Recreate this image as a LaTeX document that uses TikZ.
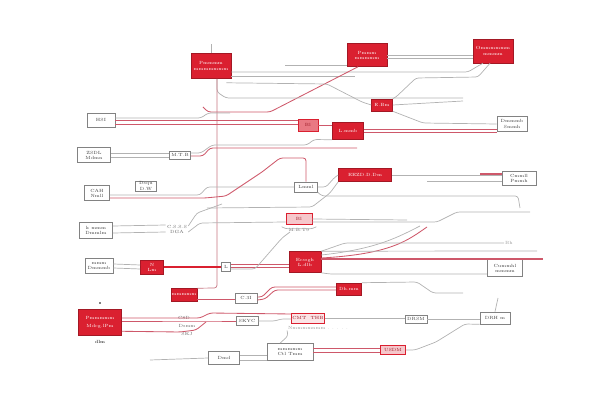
\documentclass[tikz,border=0pt]{standalone}
\usepackage{tikz}
\usetikzlibrary{calc, positioning}
\usepackage{xcolor}

\definecolor{boxred}{RGB}{218,32,48}
\definecolor{linered}{RGB}{206,88,106}
\definecolor{linegray}{RGB}{178,178,178}
\definecolor{boxgray}{RGB}{130,130,130}
\newcommand{\tinyfont}{\fontsize{3.2}{3.6}\selectfont}

\begin{document}
\begin{tikzpicture}[
        x=0.025cm, y=-0.025cm,
        redbox/.style={rectangle, draw=boxred!75!black, fill=boxred, text=white, inner sep=0.5pt, align=center, font=\tinyfont, line width=0.4pt},
        pinkbox/.style={rectangle, draw=boxred, fill=boxred!25, text=boxred!70!black, inner sep=0.5pt, align=center, font=\tinyfont, line width=0.4pt},
        graybox/.style={rectangle, draw=boxgray, fill=white, text=black!75, inner sep=0.5pt, align=center, font=\tinyfont, line width=0.45pt},
        note/.style={font=\tinyfont, text=black!60, inner sep=0.5pt, align=center},
        wire/.style={draw=linegray, line width=0.5pt, rounded corners=2pt},
        redwire/.style={draw=linered, line width=0.6pt, rounded corners=2pt},
        thickwire/.style={draw=boxred, line width=1.5pt}
    ]
        \useasboundingbox (0,0) rectangle (600,400);

        % red blocks
        \node[redbox, minimum width=1cm, minimum height=0.625cm] (rA) at (211,66) {Pmmmm\\[1pt]mmmmmmm};
        \node[redbox, minimum width=1cm, minimum height=0.575cm] (rB) at (367,55) {Pmmm\\mmmmm};
        \node[redbox, minimum width=1cm, minimum height=0.6cm] (rC) at (493,51) {Ommmmmm\\[1pt]mmmm};
        \node[redbox, minimum width=0.525cm, minimum height=0.3cm] (rD) at (382,105) {E.Bm};
        \node[redbox, minimum width=0.775cm, minimum height=0.425cm] (rF) at (348,131) {L.mmb};
        \node[redbox, minimum width=1.325cm, minimum height=0.325cm] (rG) at (365,175) {EEZD.D.Dm};
        \node[redbox, minimum width=0.8cm, minimum height=0.525cm] (rH) at (305,262) {Ecssgh\\L.dlb};
        \node[redbox, minimum width=0.625cm, minimum height=0.3cm] (rI) at (349,289) {Dh.mm};
        \node[redbox, minimum width=0.575cm, minimum height=0.35cm] (rJ) at (152,267) {N\\Lm};
        \node[redbox, minimum width=0.625cm, minimum height=0.325cm] (rK) at (184,295) {mmmmm};
        \node[redbox, minimum width=1.075cm, minimum height=0.65cm] (rL) at (100,322) {Pmmmmm\\[2pt]Mdcg.lPm};

        % light red blocks
        \node[pinkbox, fill=boxred!60, minimum width=0.5cm, minimum height=0.3cm] (pE) at (308,125) {Bl};
        \node[pinkbox, minimum width=0.65cm, minimum height=0.275cm] (pM) at (299,219) {Bl};
        \node[pinkbox, minimum width=0.625cm, minimum height=0.225cm] (pN) at (393,350) {USDM};
        \node[pinkbox, fill=boxred!12, minimum width=0.725cm, minimum height=0.25cm] (pO) at (308,318) {CMT\ \ THB};

        % gray blocks
        \node[graybox, minimum width=0.7cm, minimum height=0.35cm] (gL1) at (101,120) {HSI};
        \node[graybox, minimum width=0.825cm, minimum height=0.375cm] (gL2) at (94,155) {ZSDL\\Mdmn};
        \node[graybox, minimum width=0.625cm, minimum height=0.375cm] (gL3) at (97,193) {CAH\\Nmll};
        \node[graybox, minimum width=0.825cm, minimum height=0.4cm] (gL4) at (96,230) {k mmm\\Dmmlm};
        \node[graybox, minimum width=0.7cm, minimum height=0.375cm] (gL5) at (99,266) {mmm\\Dmmmb};
        \node[graybox, minimum width=0.525cm, minimum height=0.2cm] (gQ) at (180,155) {M.T.B};
        \node[graybox, minimum width=0.525cm, minimum height=0.225cm] (gR) at (146,186) {Dsqu\\D.W};
        \node[note, minimum width=0.55cm] (gS) at (177,229) {C.S.S.S\\DGA};
        \node[graybox, minimum width=0.575cm, minimum height=0.25cm] (gP) at (306,187) {Lmml};
        \node[graybox, minimum width=0.225cm, minimum height=0.225cm] (gT) at (226,267) {L};
        \node[graybox, minimum width=0.55cm, minimum height=0.25cm] (gU) at (246,298) {C.3I};
        \node[graybox, minimum width=0.55cm, minimum height=0.225cm] (gV) at (247,321) {SKYC};
        \node[graybox, minimum width=0.775cm, minimum height=0.325cm] (gW) at (224,358) {Dmd};
        \node[graybox, minimum width=1.15cm, minimum height=0.425cm] (gX) at (290,352) {mmmmm\\Ctl Tmm};
        \node[graybox, minimum width=0.55cm, minimum height=0.2cm] (gY) at (416,319) {DRSM};
        \node[graybox, minimum width=0.75cm, minimum height=0.3cm] (gZ) at (495,318) {DRH m};
        \node[graybox, minimum width=0.75cm, minimum height=0.375cm] (gR1) at (512,124) {Dmmmb\\Smmh};
        \node[graybox, minimum width=0.85cm, minimum height=0.35cm] (gR2) at (519,178) {Cmmll\\Pmmh};
        \node[graybox, minimum width=0.875cm, minimum height=0.425cm] (gR3) at (505,268) {Cummhl\\mmmm};

        % small texts
        \node[note, below=2pt of pM] (pMnote) {M.B.T9};
        \node[note, text=black!40] (pOnote) at (318,328) {Nmmmmnmm . . . . .};
        \node[note, text=black] (rLnote) at (100,342) {dlm};
        \node[note] (rLa) at (184,318) {C8D};
        \node[note] (rLb) at (187,326) {Dsmm};
        \node[note] (rLc) at (187,334) {SKJ};
        \node[note, text=black!40] (hNote) at (509,243) {Bh};
        \fill (100,303) circle (0.9);

        % free ends
        \coordinate (cTop) at (211,44);
        \coordinate (cA1) at (355,76);
        \coordinate (cA2) at (463,98);
        \coordinate (cB0) at (285,65);
        \coordinate (cB1) at (203,107);
        \coordinate (cD1) at (463,101);
        \coordinate (cL1) at (230,113);
        \coordinate (cQ1) at (357,148);
        \coordinate (cS1) at (222,204);
        \coordinate (cG1) at (480,174);
        \coordinate (cG3) at (427,181);
        \coordinate (cG4) at (207,208);
        \coordinate (cP2) at (520,208);
        \coordinate (cM1) at (407,220);
        \coordinate (cM2) at (530,212);
        \coordinate (cH1) at (427,227);
        \coordinate (cH2) at (420,226);
        \coordinate (cH4) at (537,251);
        \coordinate (cH5) at (543,259);
        \coordinate (cT1) at (290,232);
        \coordinate (cI1) at (463,293);
        \coordinate (cL2) at (206,322);
        \coordinate (cZ1) at (498,298);
        \coordinate (cW1) at (150,360);

        % top connectors
        \draw[wire] (rA.north) -- (cTop);
        \draw[wire] ($(rA.east)+(0,6)$) -- (468,72) -- (478,66) -- ($(rC.south)+(-10,0)$);
        \draw[wire] ($(rA.east)+(0,10)$) -- (cA1);
        \draw[wire] (cB0) -- (rB.west |- cB0);
        \draw[wire] (rB.east) -- (rB.east -| rC.west);
        \draw[wire] ($(rB.east)+(0,3)$) -- ($(rB.east -| rC.west)+(0,3)$);
        \draw[redwire] ($(rB.south)+(-9,0)$) -- (270,112) -- (208,112) -- (cB1);
        \draw[wire] ($(rA.south)+(6,0)$) -- (217,92) -- (226,98) -- (cA2);
        \draw[wire, draw=linered!70!linegray] ($(rA.south)+(6,0)$) -- (217,288) -- (rK.north east);
        \draw[wire] ($(rA.south east)+(-5,4)$) -- (327,84) -- (362,102) -- (rD.west);
        \draw[wire] ($(rC.south)+(-3,0)$) -- (478,77) -- (416,78) -- (396,97) -- (rD.north east);
        \draw[wire] (rD.east) -- (cD1);
        \draw[wire] (rD.south east) -- (423,123) -- (gR1.west);
        \draw[redwire] ($(rF.east)+(0,-2)$) -- ($(rF.east -| gR1.west)+(0,-2)$);
        \draw[redwire] ($(rF.east)+(0,1.5)$) -- ($(rF.east -| gR1.west)+(0,1.5)$);

        % left column connectors
        \draw[redwire] (gL1.east) -- (gL1.east -| pE.west);
        \draw[redwire] ($(gL1.east)+(0,4)$) -- ($(gL1.east -| pE.west)+(0,4)$);
        \draw[wire] ($(gL1.east)+(0,-2)$) -- (201,118) -- (208,113) -- (cL1);
        \draw[redwire] (pE.east) -- (pE.east -| rF.west);
        \draw[wire] ($(gL2.east)+(0,-2)$) -- ($(gQ.west)+(0,-2)$);
        \draw[wire] ($(gL2.east)+(0,2)$) -- ($(gQ.west)+(0,2)$);
        \draw[redwire] ($(gQ.east)+(0,1)$) -- (203,156) -- (210,148) -- (cQ1);
        \draw[wire] ($(gQ.east)+(0,-2)$) -- (201,153) -- (212,145) -- (307,145) -- (314,139.5) -- (rF.south west);
        \draw[wire] ($(gL3.east)+(0,2)$) -- (200,195) -- (207,187) -- (gP.west);
        \draw[redwire] ($(gL3.east)+(0,5)$) -- (205,198) -- (226,196) -- (262,172) -- (280,158) -- (306,158) -- (gP.north);
        \draw[wire] ($(gL4.east)+(0,-4)$) -- ($(gS.west)+(0,-4)$);
        \draw[wire] ($(gL4.east)+(0,3)$) -- ($(gS.west)+(0,3)$);
        \draw[wire] ($(gS.east)+(0,-3)$) -- (197,213) -- (cS1);
        \draw[wire] ($(gS.east)+(0,3)$) -- (200,223) -- ($(pM.west)+(0,3)$);
        \draw[wire] ($(gL5.east)+(0,-2)$) -- ($(rJ.west)+(0,-2)$);
        \draw[wire] ($(gL5.east)+(0,2)$) -- ($(rJ.west)+(0,2)$);
        \draw[thickwire] (rJ.east) -- (gT.west);
        \draw[redwire] (gT.east) -- (gT.east -| rH.west);
        \draw[redwire] ($(gT.east)+(0,-3)$) -- ($(gT.east -| rH.west)+(0,-3)$);
        \draw[wire] ($(gT.east)+(0,2)$) -- (255,269) -- (282,238) -- (cT1);

        % middle connectors
        \draw[wire] (gP.east) -- (326,187) -- (335,177) -- (rG.west);
        \draw[wire] (rG.east) -- (rG.east -| gR2.west);
        \draw[redwire, line width=0.9pt] (cG1) -- ($(cG1 -| gR2.west)$);
        \draw[wire] (cG3) -- ($(gR2.west)+(0,3)$);
        \draw[wire] (rG.south west) -- (330,193) -- (312,207) -- (cG4);
        \draw[wire] (gP.south east) -- (322,196) -- (518,196) -- (cP2);
        \draw[wire] (pM.east) -- (cM1);
        \draw[wire] ($(pM.east)+(0,3)$) -- (437,222) -- (457,212) -- (cM2);
        \draw[wire] ($(pM.south west)+(-4,2)$) -- ($(pM.south west)+(0,4)$) -- ($(pM.south east)+(0,4)$) -- ($(pM.south east)+(4,2)$);
        \draw[redwire] ($(rH.east)+(0,-4)$) .. controls (392,254) and (408,240) .. (cH1);
        \draw[wire] ($(rH.east)+(0,-7)$) .. controls (378,249) and (400,236) .. (cH2);
        \draw[wire] (rH.north east) -- (cH4);
        \draw[wire] (rH.north east) -- (345,243) -- (hNote.west);
        \draw[redwire, line width=0.9pt] ($(rH.east)+(0,-3)$) -- (cH5);
        \draw[wire] (rH.south east) -- (330,274) -- ($(gR3.west)+(0,6)$);
        \draw[wire] (rI.north east) -- (417,282) -- (433,293) -- (cI1);
        \draw[redwire] ($(rK.east)+(0,4)$) -- ($(gU.west)+(0,1)$);
        \draw[redwire] ($(gU.east)+(0,-1)$) -- (262,297) -- (272,287) -- ($(rI.west)+(0,-2)$);
        \draw[redwire] ($(gU.east)+(0,2)$) -- (265,299) -- (275,290) -- ($(rI.west)+(0,1)$);

        % bottom connectors
        \draw[redwire] ($(rL.east)+(0,-4)$) -- (180,318) -- (200,318) -- (210,313) -- ($(pO.west)+(0,-4)$);
        \draw[redwire] ($(rL.east)+(0,-1)$) -- (205,321) -- (gV.west);
        \draw[redwire] ($(rL.south east)+(0,-4)$) -- (180,332) -- (196,330) -- (cL2);
        \draw[wire] (gV.east) -- (275,321) -- (281,319) -- ($(pO.west)+(0,1)$);
        \draw[wire] (pO.east) -- (pO.east -| gY.west);
        \draw[wire] (gY.east) -- (gY.east -| gZ.west);
        \draw[wire] (gZ.north) -- (cZ1);
        \draw[wire] (gZ.south west) -- (465,324) -- (436,342) -- (415,350) -- (pN.east);
        \draw[redwire] ($(pN.west)+(0,-2)$) -- ($(pN.west -| gX.east)+(0,-2)$);
        \draw[redwire] ($(pN.west)+(0,2)$) -- ($(pN.west -| gX.east)+(0,2)$);
        \draw[wire] ($(gW.east)+(0,-3)$) -- ($(gW.east -| gX.west)+(0,-3)$);
        \draw[wire] ($(gW.east)+(0,2)$) -- ($(gW.east -| gX.west)+(0,2)$);
        \draw[wire] (cW1) -- (gW.west);
        \draw[wire] ($(gX.north)+(-10,0)$) -- (288,336) -- (pOnote.south west);
    \end{tikzpicture}
\end{document}
